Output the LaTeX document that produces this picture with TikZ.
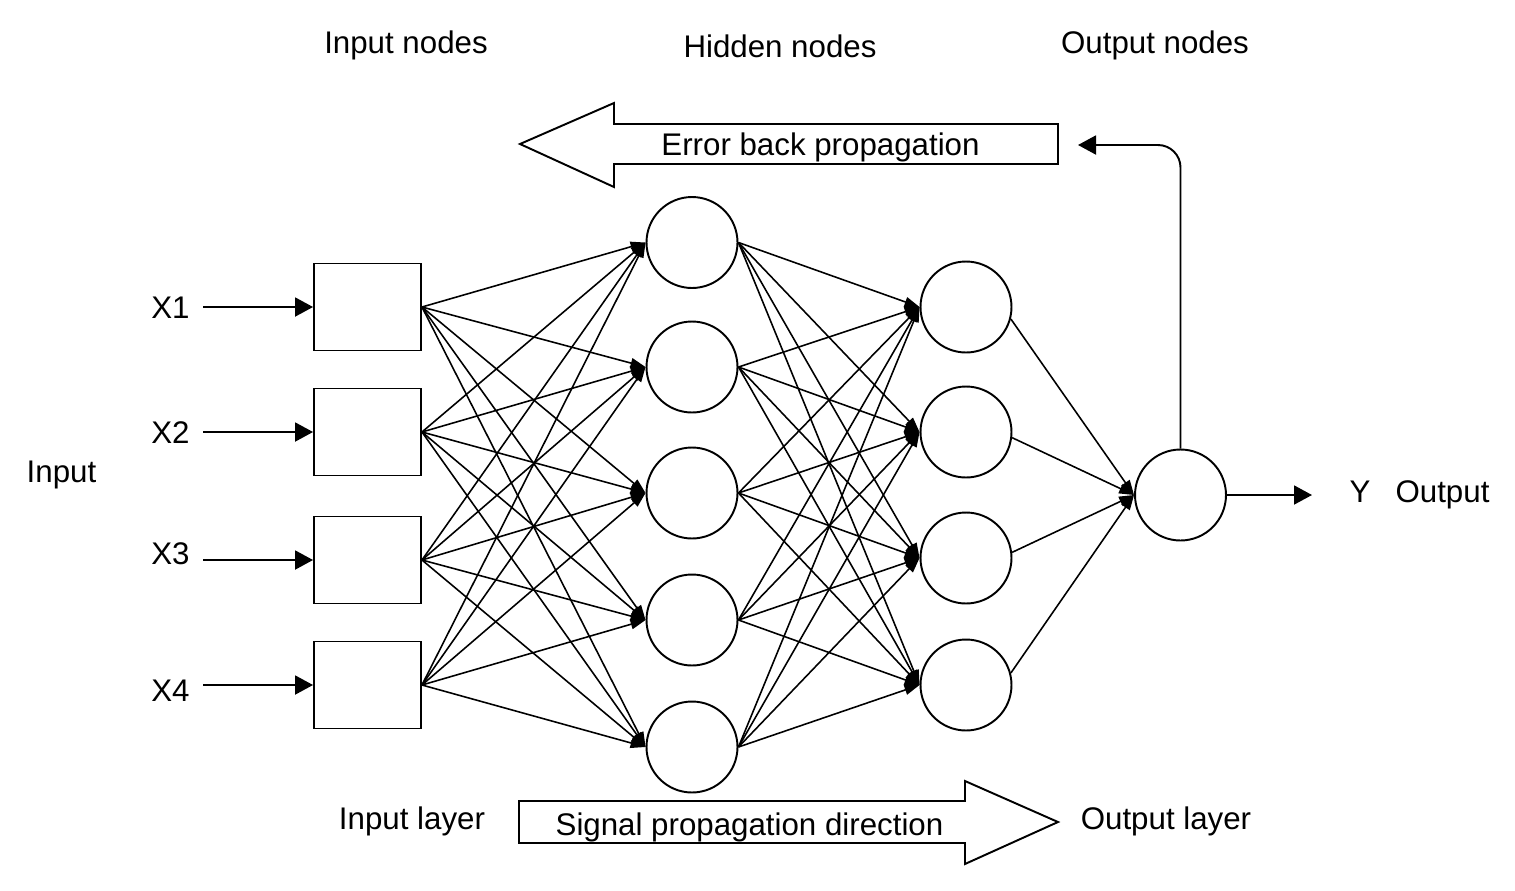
\documentclass[tikz,border=0pt]{standalone}
\usepackage{fontspec}
\setmainfont{Liberation Sans}
\usetikzlibrary{arrows.meta}
\begin{document}
\begin{tikzpicture}[x=0.02cm,y=-0.02cm,
  lbl/.style={font=\fontsize{17.8}{21}\selectfont, inner sep=0pt, anchor=base},
  box/.style={draw, line width=1.1pt, minimum width=2.14cm, minimum height=1.74cm, inner sep=0pt},
  neuron/.style={draw, circle, line width=1.1pt, minimum size=1.82cm, inner sep=0pt},
  bigtip/.style={-{Triangle[length=0.36cm,width=0.38cm]}, line width=1.1pt},
  conn/.style={-{Triangle[length=0.3cm,width=0.2cm]}, line width=0.9pt},
  fat/.style={draw, line width=1.1pt, fill=white}
]
\useasboundingbox (0,0) rectangle (1515,890);
\fill[white] (0,0) rectangle (1515,890);

% labels
\node[lbl] (tIn) at (406,53) {Input nodes};
\node[lbl] (tHid) at (780,57) {Hidden nodes};
\node[lbl] (tOut) at (1155,53) {Output nodes};
\node[lbl] (tInput) at (61.5,482) {Input};
\node[lbl] (tInL) at (412,829) {Input layer};
\node[lbl] (tOutL) at (1166,829) {Output layer};
\node[lbl] (tY) at (1360,502) {Y};
\node[lbl] (tOutput) at (1442.5,502) {Output};

% input boxes and X labels
\foreach \i/\y/\b in {1/307/318,2/432/443,3/560/564,4/685/701}{
  \node[box] (i\i) at (367.5,\y) {};
  \node[lbl] (x\i) at (170.5,\b) {X\i};
  \coordinate (xs\i) at (203,\y);
  \draw[bigtip] (xs\i) -- (i\i.west);
}

% hidden layer
\foreach \j/\y in {1/242.5,2/367,3/493,4/620,5/747}
  \node[neuron] (h\j) at (692,\y) {};
% second layer
\foreach \k/\y in {1/307,2/432,3/558,4/685}
  \node[neuron] (o\k) at (966,\y) {};
% output
\node[neuron] (out) at (1180.5,495) {};

% connections
\foreach \i in {1,...,4}
  \foreach \j in {1,...,5}
    \draw[conn] (i\i.east) -- (h\j.west);
\foreach \j in {1,...,5}
  \foreach \k in {1,...,4}
    \draw[conn] (h\j.east) -- (o\k.west);
\foreach \k/\a in {1/-15,2/-7,3/7,4/15}
  \draw[conn] (o\k.\a) -- (out.west);

% output arrow
\coordinate (yend) at (1312,495);
\draw[bigtip] (out.east) -- (yend);

% feedback
\coordinate (fb) at (1078,145);
\draw[bigtip, rounded corners=0.45cm] (out.north) |- (fb);

% error back propagation arrow
\draw[fat] (1058,124) -- (614,124) -- (614,103) -- (520,144) -- (614,187) -- (614,164) -- (1058,164) -- cycle;
\node[lbl] (tErr) at (820.5,155) {Error back propagation};

% signal propagation arrow
\draw[fat] (519,801) -- (965,801) -- (965,781) -- (1058,822) -- (965,864) -- (965,843) -- (519,843) -- cycle;
\node[lbl] (tSig) at (749.5,835) {Signal propagation direction};
\end{tikzpicture}
\end{document}
